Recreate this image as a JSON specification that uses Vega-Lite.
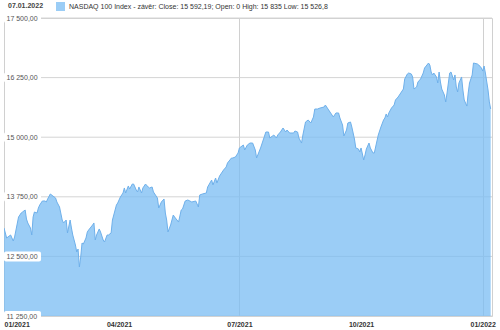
{
  "$schema": "https://vega.github.io/schema/vega-lite/v6.json",
  "width": 488,
  "height": 298,
  "autosize": {"type": "none"},
  "padding": {"left": 4, "top": 18, "right": 8, "bottom": 14},
  "background": "white",
  "config": {
    "locale": {"number": {"decimal": ",", "thousands": " ", "grouping": [3], "currency": ["", ""]}},
    "view": {"stroke": "#d0d0d0", "strokeWidth": 1},
    "font": "Liberation Sans"
  },
  "title": {
    "text": "07.01.2022",
    "anchor": "start",
    "frame": "group",
    "font": "Liberation Sans",
    "fontSize": 7,
    "fontWeight": "bold",
    "color": "#444444",
    "baseline": "middle",
    "offset": 0,
    "dx": 4,
    "dy": 11
  },
  "datasets": {
    "series": [
      {"date": "2021-01-04", "value": 13096}, {"date": "2021-01-06", "value": 12886}, {"date": "2021-01-09", "value": 12949},
      {"date": "2021-01-11", "value": 12823}, {"date": "2021-01-12", "value": 12907}, {"date": "2021-01-15", "value": 13326},
      {"date": "2021-01-17", "value": 13410}, {"date": "2021-01-18", "value": 13431}, {"date": "2021-01-20", "value": 13473},
      {"date": "2021-01-21", "value": 13284}, {"date": "2021-01-22", "value": 13201}, {"date": "2021-01-24", "value": 13096},
      {"date": "2021-01-25", "value": 12949}, {"date": "2021-01-26", "value": 13326}, {"date": "2021-01-27", "value": 13431},
      {"date": "2021-01-29", "value": 13410}, {"date": "2021-01-30", "value": 13515}, {"date": "2021-01-31", "value": 13578},
      {"date": "2021-02-02", "value": 13662}, {"date": "2021-02-04", "value": 13662}, {"date": "2021-02-05", "value": 13641},
      {"date": "2021-02-06", "value": 13704}, {"date": "2021-02-08", "value": 13809}, {"date": "2021-02-10", "value": 13767},
      {"date": "2021-02-12", "value": 13725}, {"date": "2021-02-13", "value": 13641}, {"date": "2021-02-15", "value": 13536},
      {"date": "2021-02-17", "value": 13263}, {"date": "2021-02-18", "value": 13201}, {"date": "2021-02-20", "value": 13263},
      {"date": "2021-02-21", "value": 12991}, {"date": "2021-02-23", "value": 13263}, {"date": "2021-02-24", "value": 13096},
      {"date": "2021-02-25", "value": 12949}, {"date": "2021-02-27", "value": 12739}, {"date": "2021-02-28", "value": 12592},
      {"date": "2021-03-01", "value": 12655}, {"date": "2021-03-02", "value": 12278}, {"date": "2021-03-03", "value": 12487},
      {"date": "2021-03-04", "value": 12781}, {"date": "2021-03-05", "value": 12760}, {"date": "2021-03-07", "value": 12886},
      {"date": "2021-03-08", "value": 13012}, {"date": "2021-03-09", "value": 13054}, {"date": "2021-03-12", "value": 13159},
      {"date": "2021-03-13", "value": 13201}, {"date": "2021-03-14", "value": 12844}, {"date": "2021-03-15", "value": 12949},
      {"date": "2021-03-17", "value": 13075}, {"date": "2021-03-18", "value": 13012}, {"date": "2021-03-20", "value": 12844},
      {"date": "2021-03-21", "value": 12802}, {"date": "2021-03-23", "value": 12949}, {"date": "2021-03-24", "value": 12949},
      {"date": "2021-03-26", "value": 12991}, {"date": "2021-03-27", "value": 13263}, {"date": "2021-03-30", "value": 13578},
      {"date": "2021-03-31", "value": 13620}, {"date": "2021-04-02", "value": 13746}, {"date": "2021-04-04", "value": 13830},
      {"date": "2021-04-05", "value": 13935}, {"date": "2021-04-06", "value": 13830}, {"date": "2021-04-08", "value": 13977},
      {"date": "2021-04-09", "value": 13914}, {"date": "2021-04-11", "value": 14018}, {"date": "2021-04-12", "value": 14018},
      {"date": "2021-04-14", "value": 13893}, {"date": "2021-04-15", "value": 13851}, {"date": "2021-04-16", "value": 13956},
      {"date": "2021-04-18", "value": 13830}, {"date": "2021-04-19", "value": 13935}, {"date": "2021-04-21", "value": 14018},
      {"date": "2021-04-23", "value": 13956}, {"date": "2021-04-24", "value": 13935}, {"date": "2021-04-26", "value": 13956},
      {"date": "2021-04-27", "value": 13851}, {"date": "2021-04-30", "value": 13725}, {"date": "2021-05-01", "value": 13515},
      {"date": "2021-05-02", "value": 13578}, {"date": "2021-05-03", "value": 13641}, {"date": "2021-05-05", "value": 13704},
      {"date": "2021-05-06", "value": 13410}, {"date": "2021-05-07", "value": 13263}, {"date": "2021-05-08", "value": 13012},
      {"date": "2021-05-10", "value": 13159}, {"date": "2021-05-12", "value": 13368}, {"date": "2021-05-13", "value": 13326},
      {"date": "2021-05-16", "value": 13221}, {"date": "2021-05-18", "value": 13473}, {"date": "2021-05-19", "value": 13494},
      {"date": "2021-05-21", "value": 13662}, {"date": "2021-05-23", "value": 13683}, {"date": "2021-05-26", "value": 13641},
      {"date": "2021-05-29", "value": 13662}, {"date": "2021-05-31", "value": 13536}, {"date": "2021-06-01", "value": 13788},
      {"date": "2021-06-03", "value": 13809}, {"date": "2021-06-06", "value": 13830}, {"date": "2021-06-07", "value": 13956},
      {"date": "2021-06-10", "value": 14102}, {"date": "2021-06-11", "value": 13998}, {"date": "2021-06-13", "value": 14144},
      {"date": "2021-06-14", "value": 14039}, {"date": "2021-06-16", "value": 14186}, {"date": "2021-06-19", "value": 14312},
      {"date": "2021-06-21", "value": 14375}, {"date": "2021-06-22", "value": 14459}, {"date": "2021-06-25", "value": 14564},
      {"date": "2021-06-26", "value": 14564}, {"date": "2021-06-28", "value": 14585}, {"date": "2021-06-30", "value": 14669},
      {"date": "2021-07-01", "value": 14774}, {"date": "2021-07-04", "value": 14836}, {"date": "2021-07-05", "value": 14732},
      {"date": "2021-07-07", "value": 14836}, {"date": "2021-07-09", "value": 14878}, {"date": "2021-07-11", "value": 14878},
      {"date": "2021-07-13", "value": 14732}, {"date": "2021-07-14", "value": 14564}, {"date": "2021-07-17", "value": 14774},
      {"date": "2021-07-19", "value": 14941}, {"date": "2021-07-21", "value": 15109}, {"date": "2021-07-23", "value": 15109},
      {"date": "2021-07-24", "value": 14983}, {"date": "2021-07-26", "value": 15025}, {"date": "2021-07-27", "value": 15046},
      {"date": "2021-07-29", "value": 14983}, {"date": "2021-07-30", "value": 15046}, {"date": "2021-08-01", "value": 15109},
      {"date": "2021-08-03", "value": 15193}, {"date": "2021-08-05", "value": 15109}, {"date": "2021-08-06", "value": 15151},
      {"date": "2021-08-08", "value": 15088}, {"date": "2021-08-11", "value": 15088}, {"date": "2021-08-12", "value": 15130},
      {"date": "2021-08-14", "value": 15109}, {"date": "2021-08-15", "value": 14983}, {"date": "2021-08-17", "value": 14878},
      {"date": "2021-08-18", "value": 15046}, {"date": "2021-08-20", "value": 15319}, {"date": "2021-08-22", "value": 15361},
      {"date": "2021-08-24", "value": 15298}, {"date": "2021-08-26", "value": 15424}, {"date": "2021-08-27", "value": 15591},
      {"date": "2021-08-29", "value": 15591}, {"date": "2021-08-31", "value": 15612}, {"date": "2021-09-03", "value": 15633},
      {"date": "2021-09-04", "value": 15675}, {"date": "2021-09-06", "value": 15591}, {"date": "2021-09-08", "value": 15508},
      {"date": "2021-09-10", "value": 15424}, {"date": "2021-09-12", "value": 15508}, {"date": "2021-09-14", "value": 15508},
      {"date": "2021-09-15", "value": 15403}, {"date": "2021-09-17", "value": 15256}, {"date": "2021-09-18", "value": 15025},
      {"date": "2021-09-20", "value": 15151}, {"date": "2021-09-21", "value": 15298}, {"date": "2021-09-23", "value": 15319},
      {"date": "2021-09-24", "value": 15214}, {"date": "2021-09-26", "value": 14962}, {"date": "2021-09-27", "value": 14774},
      {"date": "2021-09-29", "value": 14753}, {"date": "2021-09-30", "value": 14690}, {"date": "2021-10-01", "value": 14774},
      {"date": "2021-10-03", "value": 14522}, {"date": "2021-10-04", "value": 14627}, {"date": "2021-10-05", "value": 14753},
      {"date": "2021-10-07", "value": 14878}, {"date": "2021-10-08", "value": 14774}, {"date": "2021-10-10", "value": 14669},
      {"date": "2021-10-11", "value": 14669}, {"date": "2021-10-12", "value": 14794}, {"date": "2021-10-14", "value": 15046},
      {"date": "2021-10-16", "value": 15214}, {"date": "2021-10-18", "value": 15361}, {"date": "2021-10-19", "value": 15403},
      {"date": "2021-10-20", "value": 15487}, {"date": "2021-10-21", "value": 15424}, {"date": "2021-10-22", "value": 15508},
      {"date": "2021-10-24", "value": 15612}, {"date": "2021-10-26", "value": 15675}, {"date": "2021-10-27", "value": 15780},
      {"date": "2021-10-29", "value": 15843}, {"date": "2021-10-31", "value": 15927}, {"date": "2021-11-02", "value": 16011},
      {"date": "2021-11-03", "value": 16221}, {"date": "2021-11-05", "value": 16326}, {"date": "2021-11-06", "value": 16346},
      {"date": "2021-11-08", "value": 16326}, {"date": "2021-11-09", "value": 16263}, {"date": "2021-11-10", "value": 16011},
      {"date": "2021-11-12", "value": 16053}, {"date": "2021-11-13", "value": 16158}, {"date": "2021-11-15", "value": 16221},
      {"date": "2021-11-17", "value": 16346}, {"date": "2021-11-18", "value": 16451}, {"date": "2021-11-21", "value": 16556},
      {"date": "2021-11-22", "value": 16514}, {"date": "2021-11-23", "value": 16367}, {"date": "2021-11-24", "value": 16305},
      {"date": "2021-11-25", "value": 16346}, {"date": "2021-11-27", "value": 16263}, {"date": "2021-11-28", "value": 16137},
      {"date": "2021-11-29", "value": 16367}, {"date": "2021-11-30", "value": 16158}, {"date": "2021-12-01", "value": 16011},
      {"date": "2021-12-02", "value": 15948}, {"date": "2021-12-03", "value": 15885}, {"date": "2021-12-04", "value": 15738},
      {"date": "2021-12-05", "value": 15927}, {"date": "2021-12-07", "value": 16346}, {"date": "2021-12-08", "value": 16367},
      {"date": "2021-12-10", "value": 16200}, {"date": "2021-12-11", "value": 16305}, {"date": "2021-12-12", "value": 16053},
      {"date": "2021-12-13", "value": 15948}, {"date": "2021-12-14", "value": 16137}, {"date": "2021-12-16", "value": 16263},
      {"date": "2021-12-17", "value": 15990}, {"date": "2021-12-18", "value": 15780}, {"date": "2021-12-20", "value": 15654},
      {"date": "2021-12-21", "value": 15927}, {"date": "2021-12-22", "value": 16137}, {"date": "2021-12-24", "value": 16305},
      {"date": "2021-12-25", "value": 16556}, {"date": "2021-12-28", "value": 16535}, {"date": "2021-12-29", "value": 16514},
      {"date": "2021-12-31", "value": 16451}, {"date": "2022-01-01", "value": 16388}, {"date": "2022-01-02", "value": 16493},
      {"date": "2022-01-03", "value": 16346}, {"date": "2022-01-05", "value": 15990}, {"date": "2022-01-06", "value": 15740},
      {"date": "2022-01-07", "value": 15592}
    ],
    "ticks": [{"value": 11250}, {"value": 12500}, {"value": 13750}, {"value": 15000}, {"value": 16250}, {"value": 17500}]
  },
  "encoding": {
    "y": {
      "field": "value",
      "type": "quantitative",
      "scale": {"domain": [11250, 17500], "zero": false, "nice": false},
      "axis": {
        "title": null,
        "values": [11250, 12500, 13750, 15000, 16250, 17500],
        "format": ",.2f",
        "grid": false,
        "ticks": false,
        "tickSize": 0,
        "domain": false,
        "labelAlign": "left",
        "labelBaseline": "middle",
        "labelPadding": -2,
        "labelFont": "Liberation Sans",
        "labelFontSize": 7,
        "labelColor": "#555555",
        "zindex": 2
      }
    }
  },
  "layer": [
    {
      "data": {"name": "ticks"},
      "mark": {"type": "rule", "color": "#d4d4d4", "strokeWidth": 1}
    },
    {
      "data": {"name": "series"},
      "mark": {"type": "area", "opacity": 0.75, "clip": true},
      "encoding": {
        "x": {
          "field": "date",
          "type": "temporal",
          "scale": {"type": "utc", "domain": [{"year": 2021, "month": 1, "date": 4, "utc": true}, {"year": 2022, "month": 1, "date": 8, "utc": true}]},
          "axis": {
            "title": null,
            "values": [
              {"year": 2021, "month": 1, "date": 4, "utc": true},
              {"year": 2021, "month": 4, "date": 1, "utc": true},
              {"year": 2021, "month": 7, "date": 1, "utc": true},
              {"year": 2021, "month": 10, "date": 1, "utc": true},
              {"year": 2022, "month": 1, "date": 1, "utc": true}
            ],
            "format": "%m/%Y",
            "labelFont": "Liberation Sans",
            "labelFontSize": 7,
            "labelFontWeight": "bold",
            "labelColor": "#333333",
            "labelPadding": 4,
            "labelFlush": true,
            "labelOverlap": false,
            "ticks": false,
            "domain": false,
            "grid": true,
            "gridColor": "#d0d0d0",
            "gridOpacity": {"condition": {"test": "utcmonth(datum.value) == 6 || utcyear(datum.value) == 2022", "value": 1}, "value": 0},
            "zindex": 0
          }
        },
        "color": {
          "datum": "NASDAQ 100 Index - závěr: Close: 15 592,19; Open: 0 High: 15 835 Low: 15 526,8",
          "type": "nominal",
          "scale": {"range": ["#7abcf3"]},
          "legend": {
            "orient": "none",
            "legendX": 52,
            "legendY": -16,
            "title": null,
            "padding": 0,
            "symbolType": "square",
            "symbolSize": 81,
            "symbolStrokeWidth": 0,
            "labelFont": "Liberation Sans",
            "labelFontSize": 7,
            "labelColor": "#333333",
            "labelOffset": 4,
            "labelLimit": 400
          }
        }
      }
    },
    {
      "data": {"name": "series"},
      "mark": {"type": "line", "color": "#6fb0ea", "strokeWidth": 1, "clip": true},
      "encoding": {
        "x": {"field": "date", "type": "temporal"}
      }
    },
    {
      "data": {"name": "ticks"},
      "mark": {"type": "rect", "color": "white", "opacity": 1, "cornerRadius": 2, "yOffset": -5, "y2Offset": 5},
      "encoding": {
        "x": {"datum": {"year": 2021, "month": 1, "date": 4, "utc": true}, "type": "temporal"},
        "x2": {"datum": {"year": 2021, "month": 2, "date": 1, "utc": true}},
        "y2": {"field": "value"}
      }
    }
  ]
}
